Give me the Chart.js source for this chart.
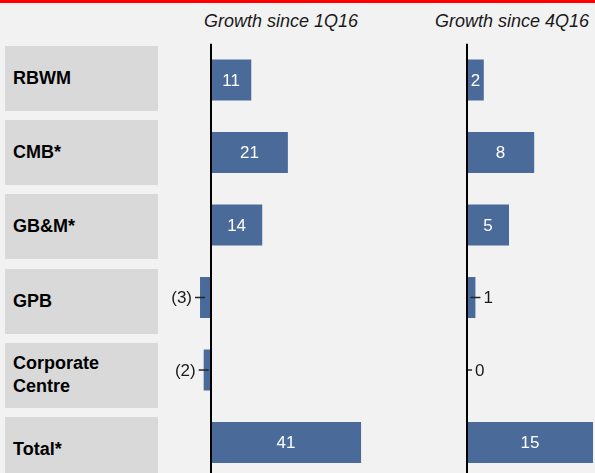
<!DOCTYPE html>
<html>
<head>
<meta charset="utf-8">
<script src="https://cdn.jsdelivr.net/npm/chart.js@4.4.1/dist/chart.umd.min.js"></script>
<style>
  html, body { margin: 0; padding: 0; width: 595px; height: 473px; overflow: hidden; background: #f2f2f2;
    font-family: "Liberation Sans", Arial, sans-serif; }
  #topRule { position: absolute; left: 0; top: 0; width: 595px; height: 3px; background: #ff0000; }
  .hdr { position: absolute; top: 11px; line-height: 20px; font-style: italic; font-size: 18px; color: #1a1a1a; white-space: nowrap; }
  #h1 { left: 204px; }
  #h2 { left: 435px; }
  #labels { position: absolute; left: 5px; top: 46px; width: 153px; }
  .cat { height: 65px; margin-bottom: 9.2px; background: #d9d9d9; display: flex; align-items: center;
    padding-left: 8px; box-sizing: border-box; font-weight: bold; font-size: 18px; line-height: 23px; color: #000; }
  canvas { position: absolute; left: 0; top: 0; }
</style>
</head>
<body>
<div id="topRule"></div>
<div class="hdr" id="h1"></div>
<div class="hdr" id="h2"></div>
<div id="labels"></div>
<canvas id="c1" width="595" height="480"></canvas>
<canvas id="c2" width="595" height="480"></canvas>
<script>
// Business segments and their growth figures
const categories = ['RBWM', 'CMB*', 'GB&M*', 'GPB', ['Corporate', 'Centre'], 'Total*'];
const growthSince1Q16 = [11, 21, 14, -3, -2, 41];
const growthSince4Q16 = [2, 8, 5, 1, 0, 15];
const panelTitles = ['Growth since 1Q16', 'Growth since 4Q16'];

const BAR_COLOR = '#4a6a9a';
const FONT = '"Liberation Sans", Arial, sans-serif';

// Panel headers
document.getElementById('h1').textContent = panelTitles[0];
document.getElementById('h2').textContent = panelTitles[1];

// Grey row label boxes
const labelsEl = document.getElementById('labels');
categories.forEach(c => {
  const d = document.createElement('div');
  d.className = 'cat';
  const lines = Array.isArray(c) ? c : [c];
  lines.forEach((ln, i) => {
    if (i) d.appendChild(document.createElement('br'));
    d.appendChild(document.createTextNode(ln));
  });
  labelsEl.appendChild(d);
});

// Zero axis line plus value labels (inside wide bars, outside with a leader for narrow ones)
const panelDecor = {
  id: 'panelDecor',
  afterDatasetsDraw(chart) {
    const { ctx, chartArea, scales: { x } } = chart;
    const x0 = x.getPixelForValue(0);
    const vals = chart.data.datasets[0].data;
    const meta = chart.getDatasetMeta(0);
    ctx.save();
    ctx.font = '17px ' + FONT;
    ctx.textBaseline = 'middle';
    meta.data.forEach((bar, i) => {
      const v = vals[i];
      const end = x.getPixelForValue(v);
      const y = bar.y;
      const text = v < 0 ? '(' + Math.abs(v) + ')' : String(v);
      if (Math.abs(end - x0) >= 14) {
        ctx.fillStyle = '#ffffff';
        ctx.textAlign = 'center';
        ctx.fillText(text, (x0 + end) / 2, y + 1);
      } else {
        const dir = v < 0 ? -1 : 1;
        const start = v === 0 ? x0 - 1 : end - 5 * dir;
        const stop = v === 0 ? x0 + 5 : end + 5 * dir;
        ctx.strokeStyle = '#262626';
        ctx.lineWidth = 1.5;
        ctx.beginPath();
        ctx.moveTo(start, y);
        ctx.lineTo(stop, y);
        ctx.stroke();
        ctx.fillStyle = '#1a1a1a';
        ctx.textAlign = dir < 0 ? 'right' : 'left';
        ctx.fillText(text, stop + 3 * dir, y + 1);
      }
    });
    ctx.strokeStyle = '#000000';
    ctx.lineWidth = 2;
    ctx.beginPath();
    ctx.moveTo(x0, chartArea.top);
    ctx.lineTo(x0, chartArea.bottom);
    ctx.stroke();
    ctx.restore();
  }
};

function makePanel(id, values, xMin, xMax, padLeft, padRight) {
  return new Chart(document.getElementById(id), {
    type: 'bar',
    data: {
      labels: categories,
      datasets: [{
        data: values,
        backgroundColor: BAR_COLOR,
        borderWidth: 0,
        categoryPercentage: 1,
        barPercentage: 0.566
      }]
    },
    options: {
      indexAxis: 'y',
      responsive: false,
      animation: false,
      layout: { padding: { left: padLeft, right: padRight, top: 43.75, bottom: 1.25 } },
      plugins: { legend: { display: false }, tooltip: { enabled: false } },
      scales: {
        x: { type: 'linear', min: xMin, max: xMax, display: false },
        y: { type: 'category', display: false, offset: true }
      }
    },
    plugins: [panelDecor]
  });
}

// Left panel: zero at x≈211, right panel: zero at x≈467
makePanel('c1', growthSince1Q16, -5, 45, 192.7, 219.3);
makePanel('c2', growthSince4Q16, -5, 15, 425, 2);
</script>
</body>
</html>
